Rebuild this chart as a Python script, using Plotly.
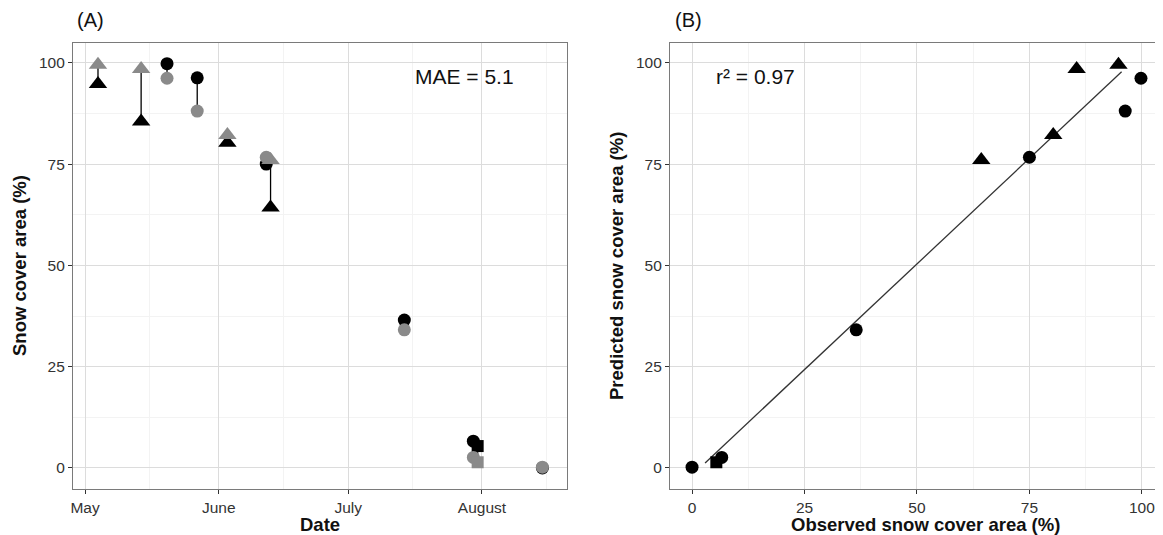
import plotly.graph_objects as go

# ---------------- data ----------------
# Panel A: observed (black) vs predicted (grey) snow cover area by date
tri_dates = ["2013-05-04", "2013-05-14", "2013-06-03", "2013-06-13"]
tri_obs = [94.8, 85.5, 80.3, 64.3]
tri_pred = [99.5, 98.5, 82.2, 76.0]

circ_dates = ["2013-05-20", "2013-05-27", "2013-06-12", "2013-07-14", "2013-07-30", "2013-08-15"]
circ_obs = [99.8, 96.3, 75.0, 36.5, 6.6, 0.0]
circ_pred = [96.2, 88.1, 76.7, 34.1, 2.6, 0.2]

sq_dates = ["2013-07-31"]
sq_obs = [5.4]
sq_pred = [1.4]

month_ticks = ["2013-05-01", "2013-06-01", "2013-07-01", "2013-08-01"]
month_labels = ["May", "June", "July", "August"]
month_minor = ["2013-05-16", "2013-06-16", "2013-07-16", "2013-08-16"]
date_range = ["2013-04-28 05:00", "2013-08-20 17:00"]

y_ticks = [0, 25, 50, 75, 100]
y_minor = [12.5, 37.5, 62.5, 87.5]

# Panel B regression line
fit_slope = 1.043
fit_intercept = -1.8
fit_x_range = [2.9, 95.5]

mae_text = "MAE = 5.1"
r2_text = "r\u00b2 = 0.97"

# ---------------- figure ----------------
BLACK = "#000000"
GREY = "#8a8a8a"
FONT = "Liberation Sans, Arial, Helvetica, sans-serif"

# the page body adds an 8px offset; the figure fills the rest of the window
OFF = 8
W, H = 1163 - OFF, 535 - OFF


def px(sx):
    return (sx - OFF) / W


def py(sy):
    return 1 - (sy - OFF) / H


fig = go.Figure()

# connecting segments (obs <-> pred) in panel A
seg_x, seg_y = [], []
for d_list, o_list, p_list in [(tri_dates, tri_obs, tri_pred),
                               (circ_dates, circ_obs, circ_pred),
                               (sq_dates, sq_obs, sq_pred)]:
    for d, o, p in zip(d_list, o_list, p_list):
        seg_x += [d, d, None]
        seg_y += [o, p, None]
fig.add_trace(go.Scatter(x=seg_x, y=seg_y, mode="lines",
                         line=dict(color=BLACK, width=1.3),
                         showlegend=False, hoverinfo="skip",
                         xaxis="x", yaxis="y"))

shapes = [("triangle-up", 16, tri_dates, tri_obs, tri_pred),
          ("circle", 13, circ_dates, circ_obs, circ_pred),
          ("square", 12, sq_dates, sq_obs, sq_pred)]

for sym, size, d, o, p in shapes:
    fig.add_trace(go.Scatter(x=d, y=o, mode="markers",
                             marker=dict(symbol=sym, size=size, color=BLACK),
                             showlegend=False, xaxis="x", yaxis="y"))
for sym, size, d, o, p in shapes:
    fig.add_trace(go.Scatter(x=d, y=p, mode="markers",
                             marker=dict(symbol=sym, size=size, color=GREY),
                             showlegend=False, xaxis="x", yaxis="y"))

# Panel B: observed vs predicted
fit_y = [fit_slope * v + fit_intercept for v in fit_x_range]
fig.add_trace(go.Scatter(x=fit_x_range, y=fit_y, mode="lines",
                         line=dict(color="#333333", width=1.3),
                         showlegend=False, xaxis="x2", yaxis="y2"))
for sym, size, d, o, p in shapes:
    fig.add_trace(go.Scatter(x=o, y=p, mode="markers",
                             marker=dict(symbol=sym, size=size, color=BLACK),
                             showlegend=False, xaxis="x2", yaxis="y2"))

ya_dom = [py(489), py(43)]

common_axis = dict(
    showgrid=True, gridcolor="#dcdcdc", gridwidth=1,
    zeroline=False, showline=True, linecolor="#7a7a7a", linewidth=1.2,
    mirror=True, ticks="outside", ticklen=4, tickcolor="#333333",
    tickfont=dict(family=FONT, size=15.5, color="#333333"),
    automargin=False,
)
minor_grid = dict(showgrid=True, gridcolor="#f3f3f3", ticks="")


def note(text, sx, sy, size=20, angle=0):
    return dict(text=text, x=px(sx), y=py(sy), xref="paper", yref="paper",
                xanchor="center", yanchor="middle", textangle=angle,
                borderpad=0,
                showarrow=False, font=dict(family=FONT, size=size, color="#111111"))


fig.update_layout(
    width=W, height=H,
    template="none",
    paper_bgcolor="white", plot_bgcolor="white",
    margin=dict(l=0, r=0, t=0, b=0),
    font=dict(family=FONT),
    xaxis=dict(common_axis, domain=[px(73), px(567)], type="date",
               range=date_range, tickmode="array",
               tickvals=month_ticks, ticktext=month_labels,
               minor=dict(minor_grid, tickvals=month_minor),
               anchor="y"),
    yaxis=dict(common_axis, domain=ya_dom, range=[-5.2, 104.9],
               tickmode="array", tickvals=y_ticks,
               minor=dict(minor_grid, tickvals=y_minor),
               anchor="x"),
    xaxis2=dict(common_axis, domain=[px(670), 1.0], range=[-4.9, 104.7],
                tickmode="array", tickvals=y_ticks,
                minor=dict(minor_grid, tickvals=y_minor),
                anchor="y2"),
    yaxis2=dict(common_axis, domain=ya_dom, range=[-5.2, 104.9],
                tickmode="array", tickvals=y_ticks,
                minor=dict(minor_grid, tickvals=y_minor),
                anchor="x2"),
    annotations=[
        note("(A)", 90, 20),
        note("(B)", 688, 20),
        note(mae_text, 464, 76, size=21),
        note(r2_text, 755, 76, size=21),
        note("<b>Date</b>", 320, 524, size=18.5),
        note("<b>Observed snow cover area (%)</b>", 925, 524, size=18.5),
        note("<b>Snow cover area (%)</b>", 20, 266, size=18.5, angle=-90),
        note("<b>Predicted snow cover area (%)</b>", 617, 266, size=18.5, angle=-90),
    ],
)

fig.write_html("out.html")
